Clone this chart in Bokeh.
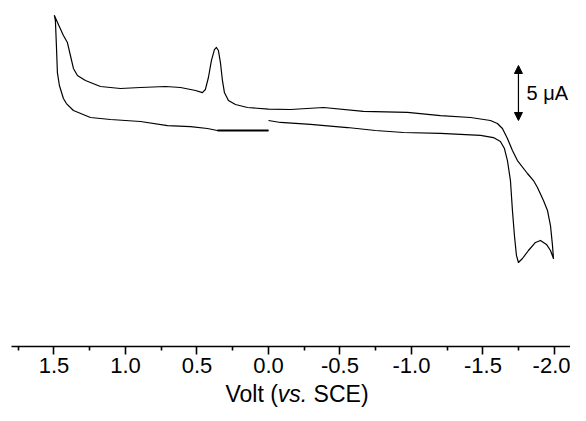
from bokeh.plotting import figure
from bokeh.layouts import column
from bokeh.models import Range1d, FixedTicker, PrintfTickFormatter, Arrow, NormalHead, Label, Div
from bokeh.embed import file_html
from bokeh.resources import INLINE

# Cyclic voltammogram: potential (V vs. SCE) and current (uA), in scan order
potential = [
    0.000, 0.175, 0.357, 0.427, 0.545, 0.706, 0.895, 1.105, 1.245, 1.364, 1.413, 1.434,
    1.462, 1.476, 1.483, 1.490, 1.497,
    1.469, 1.434, 1.406, 1.385, 1.364, 1.336, 1.280, 1.175, 1.035, 0.895,
    0.720, 0.615, 0.510, 0.462, 0.441, 0.420, 0.399, 0.378, 0.364, 0.350,
    0.336, 0.322, 0.308, 0.280, 0.231, 0.147, 0.000, -0.154, -0.385, -0.664,
    -0.972, -1.203, -1.413, -1.552, -1.601, -1.636, -1.671, -1.706, -1.741, -1.811,
    -1.853, -1.881, -1.923, -1.951, -1.972, -1.986, -1.993,
    -1.972, -1.944, -1.902, -1.867, -1.818, -1.776, -1.748, -1.734, -1.720, -1.706,
    -1.692, -1.671, -1.650, -1.622, -1.573, -1.483, -1.203, -0.944, -0.748, -0.552,
    -0.294, -0.084, 0.000,
]
current = [
    0.00, 0.00, 0.00, 0.18, 0.36, 0.45, 0.82, 1.00, 1.18, 1.82, 2.45, 2.91,
    4.09, 5.27, 7.73, 10.00, 10.45,
    9.64, 8.64, 8.00, 6.82, 5.64, 5.00, 4.55, 4.00, 3.82, 3.91,
    4.00, 3.91, 3.64, 3.45, 3.73, 4.82, 6.36, 7.36, 7.55, 7.27,
    6.18, 4.55, 3.45, 2.73, 2.36, 2.09, 1.95, 1.91, 2.09, 1.73,
    1.64, 1.36, 1.18, 0.91, 0.64, 0.18, -0.73, -1.82, -2.73, -3.91,
    -4.55, -5.18, -6.36, -7.27, -8.64, -10.45, -11.64,
    -10.91, -10.36, -10.00, -10.18, -10.91, -11.64, -12.00, -11.36, -9.55, -7.27,
    -4.55, -2.73, -1.64, -1.00, -0.64, -0.45, -0.27, -0.18, 0.00, 0.27,
    0.55, 0.73, 0.91,
]
n_initial = 3  # first points of the scan drawn heavier

major_ticks = [1.5, 1.0, 0.5, 0.0, -0.5, -1.0, -1.5, -2.0]
minor_ticks = [1.75, 1.25, 0.75, 0.25, -0.25, -0.75, -1.25, -1.75]

# scale bar (5 uA)
bar_potential = -1.748
bar_bottom = 0.91
bar_size = 5.0
bar_text = "5 μA"

x_title_html = "Volt (<i>vs.</i> SCE)"

FONT = "Liberation Sans"

p = figure(width=570, height=384, output_backend="svg", toolbar_location=None,
           x_range=Range1d(1.797, -2.112), y_range=Range1d(-19.64, 11.82),
           min_border_left=11, min_border_right=0, min_border_top=0, min_border_bottom=38,
           y_axis_location=None)
p.outline_line_color = None
p.grid.visible = False
p.background_fill_color = "white"
p.border_fill_color = "white"

p.line(potential, current, line_color="black", line_width=1.2, line_join="round")
p.line(potential[:n_initial], current[:n_initial], line_color="black", line_width=2.2)

ax = p.xaxis[0]
ax.ticker = FixedTicker(ticks=major_ticks, minor_ticks=minor_ticks)
ax.formatter = PrintfTickFormatter(format="%.1f")
ax.axis_line_width = 1.6
ax.axis_line_color = "black"
ax.major_tick_line_width = 1.6
ax.minor_tick_line_width = 1.6
ax.major_tick_line_color = "black"
ax.minor_tick_line_color = "black"
ax.major_tick_in = 0
ax.major_tick_out = 8
ax.minor_tick_in = 0
ax.minor_tick_out = 4
ax.major_label_standoff = 3
ax.major_label_text_font = FONT
ax.major_label_text_font_size = "22px"
ax.major_label_text_color = "black"

# scale bar
head = dict(size=8, fill_color="black", line_color="black", line_width=1)
p.add_layout(Arrow(x_start=bar_potential, y_start=bar_bottom,
                   x_end=bar_potential, y_end=bar_bottom + bar_size,
                   start=NormalHead(**head), end=NormalHead(**head),
                   line_color="black", line_width=1.2))
p.add_layout(Label(x=bar_potential, y=bar_bottom + bar_size / 2, x_offset=8,
                   text=bar_text, text_font=FONT, text_font_size="20px",
                   text_baseline="middle", text_align="left", text_color="black"))

# axis title (with italic "vs.")
title = Div(text=x_title_html, width=546, height=21, margin=(0, 0, 0, 24),
            styles={"font-family": FONT, "font-size": "23px", "line-height": "21px",
                    "text-align": "center", "color": "black", "width": "546px",
                    "overflow": "visible", "white-space": "nowrap"})

layout = column(p, title, spacing=0)
open("out.html", "w").write(file_html(layout, INLINE))
